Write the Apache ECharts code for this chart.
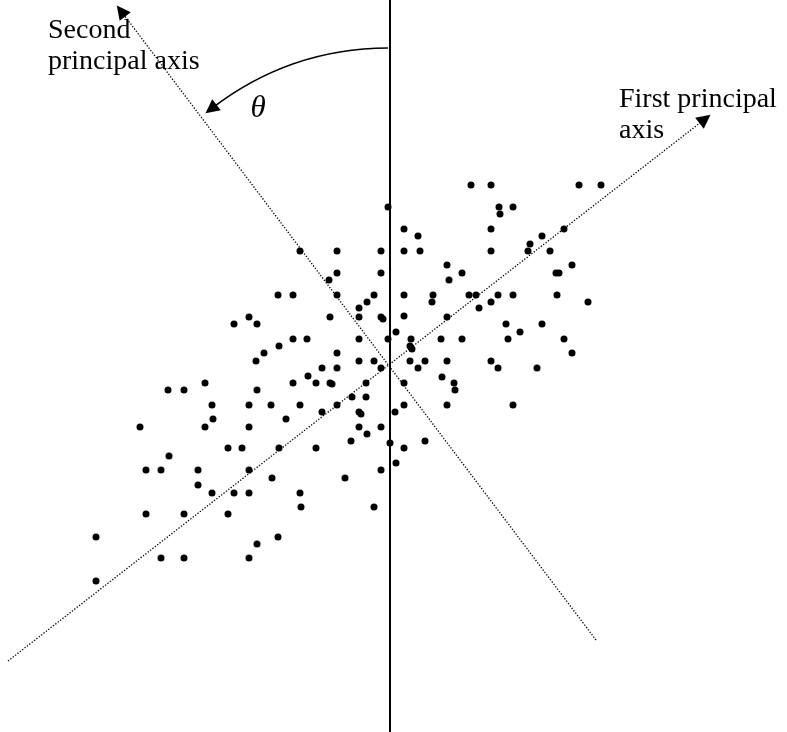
<!DOCTYPE html>
<html>
<head>
<meta charset="utf-8">
<script src="https://cdn.jsdelivr.net/npm/echarts@6/dist/echarts.min.js"></script>
<style>
  html, body { margin: 0; padding: 0; background: #fff; }
  #chart { width: 787px; height: 732px; }
</style>
</head>
<body>
<div id="chart"></div>
<script>
// Centred observations (x, y), origin at the crossing of the principal axes
const points = [
  [-2,158],[14,136],[28,129],[-90,114],[-53,114],[-9,114],[14,114],[30,114],
  [-53,92],[-61,85],[-9,92],[-112,70],[-97,70],[-53,70],[-16,70],[-23,63],
  [-31,57],[14,70],[43,70],[42,63],
  [81,180],[101,180],[189,180],[211,180],[109,158],[123,158],[110,151],[101,136],
  [174,136],[152,129],[140,121],[138,114],[101,114],[160,114],[57,100],[72,92],
  [59,85],[166,92],[169,92],[182,100],[79,70],[86,70],[108,70],[123,70],
  [167,70],[101,63],[198,63],[89,57],
  [-156,41],[-141,48],[-133,41],[-134,4],[-185,-18],[-222,-25],[-206,-25],[-133,-25],
  [-178,-40],[-141,-40],[-177,-54],[-250,-62],[-185,-62],[-141,-62],[-162,-83],[-148,-83],
  [-60,48],[-31,48],[-9,48],[-7,46],[14,49],[6,33],[-97,26],[-83,26],
  [-31,26],[-2,26],[21,26],[20,19],[22,16],[-111,19],[-126,12],[-53,12],
  [-31,4],[-16,4],[20,4],[35,4],[28,-3],[-68,-3],[-53,-3],[-9,-3],
  [-82,-11],[-97,-18],[-74,-18],[-60,-18],[-58,-19],[-24,-18],[14,-18],[-38,-32],
  [-24,-32],[-119,-40],[-90,-40],[-53,-40],[14,-40],[-68,-47],[-31,-47],[-29,-49],
  [5,-47],[-104,-54],[-31,-62],[-9,-62],[-23,-69],[-39,-76],[0,-78],[35,-76],
  [-111,-83],[-74,-83],[14,-83],
  [57,48],[116,41],[152,41],[130,33],[51,26],[72,26],[118,26],[174,26],
  [182,12],[57,4],[101,4],[108,-3],[147,-3],[52,-12],[64,-18],[65,-25],
  [57,-40],[123,-40],
  [-221,-91],[-244,-105],[-229,-105],[-192,-105],[-141,-105],[-192,-120],[-178,-128],[-156,-128],
  [-141,-128],[-244,-149],[-206,-149],[-162,-149],[-294,-172],[-133,-179],[-229,-193],[-206,-193],
  [-141,-193],[-294,-216],
  [6,-98],[-9,-105],[-118,-113],[-45,-113],[-90,-128],[-89,-142],[-16,-142],[-112,-172]
];

// Plot extent
const xRange = [-390, 397];
const yRange = [-367, 365];

// Reference vertical axis and the two principal directions (start, arrow end)
const verticalAxis = [[0, -367], [0, 365]];
const firstAxis = [[-382, -296], [315, 246]];
const secondAxis = [[206, -275], [-269, 354]];
// Arc marking the rotation angle
const angleArc = [[-2, 317], [-179, 256]];

const serif = '"Liberation Serif", "Times New Roman", serif';

const chart = echarts.init(document.getElementById('chart'), null, { renderer: 'canvas' });

// One arrowed segment drawn through the cartesian axes
function arrowSeries(segment, lineStyle) {
  return {
    type: 'lines',
    coordinateSystem: 'cartesian2d',
    silent: true,
    symbol: ['none', 'triangle'],
    symbolSize: [10, 14],
    lineStyle: lineStyle,
    itemStyle: { color: '#000' },
    z: 2,
    data: [{ coords: [segment[0], segment[1]] }]
  };
}

const dottedStyle = { type: [1.3, 1.7], width: 1.3, color: '#000', opacity: 1, curveness: 0 };

const textStyle = (text, font) => ({
  text: text, font: font, fill: '#000', textAlign: 'left',
  textVerticalAlign: 'middle', verticalAlign: 'middle'
});

chart.setOption({
  animation: false,
  backgroundColor: '#fff',
  grid: { left: 0, right: 0, top: 0, bottom: 0 },
  xAxis: { type: 'value', min: xRange[0], max: xRange[1], show: false },
  yAxis: { type: 'value', min: yRange[0], max: yRange[1], show: false },
  series: [
    {
      type: 'line',
      data: verticalAxis,
      symbol: 'none',
      silent: true,
      lineStyle: { color: '#000', width: 2 },
      z: 1
    },
    arrowSeries(firstAxis, dottedStyle),
    arrowSeries(secondAxis, dottedStyle),
    arrowSeries(angleArc, { type: 'solid', width: 1.6, color: '#000', opacity: 1, curveness: -0.17 }),
    {
      type: 'scatter',
      data: points,
      symbol: 'circle',
      symbolSize: 7,
      silent: true,
      itemStyle: { color: '#000', opacity: 1 },
      z: 3
    }
  ],
  graphic: [
    { type: 'text', x: 48, y: 31, silent: true, style: textStyle('Second', '28px ' + serif) },
    { type: 'text', x: 48, y: 62, silent: true, style: textStyle('principal axis', '28px ' + serif) },
    { type: 'text', x: 619, y: 100, silent: true, style: textStyle('First principal', '28px ' + serif) },
    { type: 'text', x: 619, y: 131, silent: true, style: textStyle('axis', '28px ' + serif) },
    { type: 'text', x: 258, y: 109, silent: true,
      style: Object.assign(textStyle('θ', 'italic 31px ' + serif), { textAlign: 'center' }) }
  ]
});
</script>
</body>
</html>
